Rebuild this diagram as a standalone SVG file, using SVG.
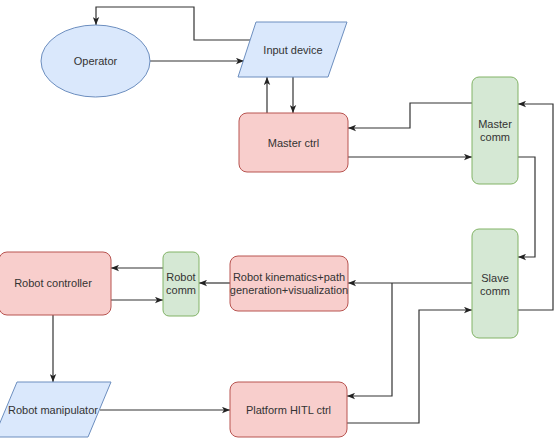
<svg xmlns="http://www.w3.org/2000/svg" width="557" height="438" viewBox="0 0 557 438">
<style>
.blue{fill:#dae8fc;stroke:#6c8ebf;stroke-width:1}
.red{fill:#f8cecc;stroke:#b85450;stroke-width:1}
.green{fill:#d5e8d4;stroke:#82b366;stroke-width:1}
.lbl{font-family:"Liberation Sans",Arial,sans-serif;font-size:11px;fill:#333;text-anchor:middle;dominant-baseline:central}
.c{fill:none;stroke:#333;stroke-width:1.2}
.a{marker-end:url(#arr)}
</style>
<defs>
<marker id="arr" viewBox="0 0 10 8" refX="10" refY="4" markerWidth="8" markerHeight="7" orient="auto" markerUnits="userSpaceOnUse">
<path d="M0,0 L10,4 L0,8 L2.5,4 z" fill="#222"/>
</marker>
</defs>
<rect width="557" height="438" fill="#fff"/>
<g id="connectors">
<polyline class="c a" points="250,40 194,40 194,7 96,7 96,25"/>
<line class="c a" x1="150" y1="61" x2="244" y2="61"/>
<line class="c a" x1="267" y1="113" x2="267" y2="77"/>
<line class="c a" x1="293" y1="77" x2="293" y2="113"/>
<polyline class="c a" points="472,103 410,103 410,128 348,128"/>
<line class="c a" x1="348" y1="157" x2="472" y2="157"/>
<polyline class="c a" points="518,157 535,157 535,257 518,257"/>
<polyline class="c a" points="518,310 553,310 553,104 518,104"/>
<line class="c a" x1="472" y1="283" x2="348" y2="283"/>
<polyline class="c a" points="392,283 392,396 347,396"/>
<polyline class="c a" points="347,423 419,423 419,310 472,310"/>
<line class="c a" x1="230" y1="283" x2="199" y2="283"/>
<line class="c a" x1="163" y1="268" x2="111" y2="268"/>
<line class="c a" x1="111" y1="300" x2="163" y2="300"/>
<line class="c a" x1="53" y1="315" x2="53" y2="382"/>
<line class="c a" x1="100" y1="410" x2="230" y2="410"/>
</g>
<g id="operator">
<ellipse class="blue" cx="95.5" cy="61" rx="54.5" ry="36"/>
<text class="lbl" x="95.5" y="61">Operator</text>
</g>
<g id="input-device">
<polygon class="blue" points="256,22 347,22 328,77 238,77"/>
<text class="lbl" x="293" y="50">Input device</text>
</g>
<g id="master-ctrl">
<rect class="red" x="239" y="113" width="109" height="59" rx="8"/>
<text class="lbl" x="293.5" y="143">Master ctrl</text>
</g>
<g id="master-comm">
<rect class="green" x="472" y="77" width="46" height="107" rx="7"/>
<text class="lbl" x="495" y="124">Master</text>
<text class="lbl" x="495" y="137">comm</text>
</g>
<g id="slave-comm">
<rect class="green" x="472" y="229" width="46" height="109" rx="7"/>
<text class="lbl" x="495" y="278">Slave</text>
<text class="lbl" x="495" y="291">comm</text>
</g>
<g id="robot-kinematics">
<rect class="red" x="230" y="256" width="118" height="55" rx="8"/>
<text class="lbl" x="289" y="277">Robot kinematics+path</text>
<text class="lbl" x="289" y="290">generation+visualization</text>
</g>
<g id="robot-comm">
<rect class="green" x="163" y="252" width="36" height="64" rx="6"/>
<text class="lbl" x="181" y="277">Robot</text>
<text class="lbl" x="181" y="290">comm</text>
</g>
<g id="robot-controller">
<rect class="red" x="-1" y="252" width="112" height="63" rx="8"/>
<text class="lbl" x="53" y="283">Robot controller</text>
</g>
<g id="robot-manipulator">
<polygon class="blue" points="17,382 111,382 88,437 -6,437"/>
<text class="lbl" x="53" y="410">Robot manipulator</text>
</g>
<g id="platform-hitl">
<rect class="red" x="230" y="382" width="117" height="55" rx="8"/>
<text class="lbl" x="288.5" y="410">Platform HITL ctrl</text>
</g>
</svg>
